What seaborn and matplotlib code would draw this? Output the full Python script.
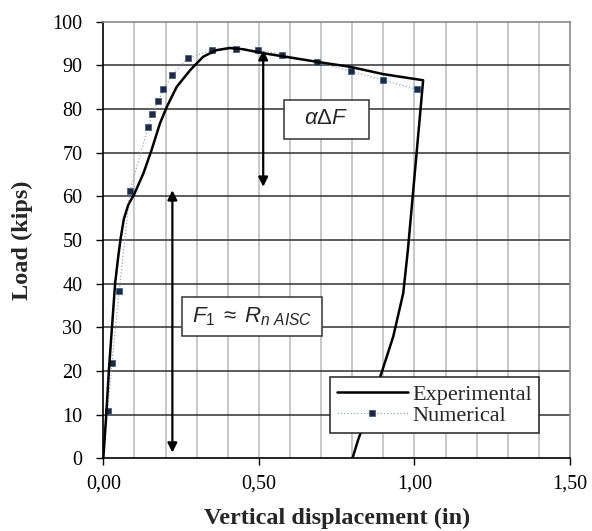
import numpy as np
import pandas as pd
import matplotlib
matplotlib.use("Agg")
import matplotlib.pyplot as plt
import matplotlib.patches as mpatches
import seaborn as sns
from matplotlib.ticker import MultipleLocator, FuncFormatter

# Experimental load-displacement curve (loading, then unloading)
exp_disp = [0, 0.009, 0.018, 0.028, 0.038, 0.048, 0.056, 0.066, 0.080, 0.100,
            0.129, 0.155, 0.182, 0.204, 0.236, 0.279, 0.321, 0.364, 0.407, 0.450,
            0.514, 0.707, 0.792, 0.900, 1.028, 0.979, 0.964, 0.932,
            0.894, 0.857, 0.819, 0.801]
exp_load = [0, 9.5, 20.2, 30.1, 40.1, 46.2, 50.5, 54.8, 58.0, 60.6,
            65.3, 70.6, 76.7, 80.5, 85.1, 88.9, 92.0, 93.5, 94.0, 93.7,
            92.8, 90.6, 89.7, 88.0, 86.6, 47.7, 37.8, 27.9,
            19.5, 11.8, 4.2, 0]

# Numerical model
num_disp = [0, 0.014, 0.028, 0.051, 0.086, 0.144, 0.157, 0.176, 0.193, 0.222,
            0.272, 0.349, 0.426, 0.498, 0.574, 0.686, 0.796, 0.900, 1.009]
num_load = [0, 10.9, 21.9, 38.3, 61.3, 75.9, 78.9, 81.8, 84.5, 87.9,
            91.7, 93.5, 93.7, 93.5, 92.5, 90.7, 88.7, 86.6, 84.5]

# annotation arrows (x, y_from, y_to) and labels
dF_arrow = (0.514, 93.5, 62.2)
F1_arrow = (0.222, 61.4, 1.3)
dF_text = r"$\alpha\Delta F$"
F1_text = r"$F_{\mathrm{1}}\;\approx\;R_{n\ AISC}$"

df_exp = pd.DataFrame({"disp": exp_disp, "load": exp_load})
df_num = pd.DataFrame({"disp": num_disp, "load": num_load})

sns.set_style("white")
plt.rcParams["font.family"] = ["Liberation Serif", "DejaVu Serif"]
plt.rcParams["mathtext.fontset"] = "custom"
plt.rcParams["mathtext.it"] = "Liberation Sans:italic"
plt.rcParams["mathtext.rm"] = "Liberation Sans"

fig = plt.figure(figsize=(5.92, 5.31), dpi=100)
ax = fig.add_axes([0.1745, 0.137, 0.7883, 0.822])

# grid
for xv in np.arange(0.1, 1.5, 0.1):
    ax.axvline(xv, color="#c4c4c4", lw=1.3, zorder=0)
for yv in range(10, 100, 10):
    ax.axhline(yv, color="#303030", lw=1.1, zorder=0)

sns.lineplot(data=df_num, x="disp", y="load", sort=False, estimator=None, ax=ax,
             color="#9aa8bb", lw=0.9, linestyle=":", marker="s", markersize=4.5,
             markerfacecolor="#1c2a48", markeredgecolor="#44608a", markeredgewidth=0.6,
             markevery=list(range(1, len(num_disp))), label="Numerical", zorder=3)
sns.lineplot(data=df_exp, x="disp", y="load", sort=False, estimator=None, ax=ax,
             color="black", lw=1.8, label="Experimental", zorder=4)

ax.set_xlim(0, 1.5)
ax.set_ylim(0, 100)
ax.xaxis.set_major_locator(MultipleLocator(0.5))
ax.yaxis.set_major_locator(MultipleLocator(10))
ax.xaxis.set_major_formatter(FuncFormatter(lambda v, p: f"{v:.2f}".replace(".", ",")))
ax.tick_params(axis="both", direction="out", length=5, width=1, colors="black",
               labelsize=14.5, left=True, bottom=True)
ax.tick_params(axis="x", pad=7)
ax.tick_params(axis="y", pad=10)

for s in ["left", "bottom"]:
    ax.spines[s].set_color("black")
    ax.spines[s].set_linewidth(1.2)
for s in ["top", "right"]:
    ax.spines[s].set_color("#8a8a8a")
    ax.spines[s].set_linewidth(1.2)

ax.set_xlabel("Vertical displacement (in)", fontsize=17.5, fontweight="bold", labelpad=10)
ax.set_ylabel("Load (kips)", fontsize=17.5, fontweight="bold", labelpad=14)

arrow_kw = dict(arrowstyle="<|-|>", color="black", lw=1.6, mutation_scale=14,
                shrinkA=0, shrinkB=0)
ax.annotate("", xy=(dF_arrow[0], dF_arrow[2]), xytext=(dF_arrow[0], dF_arrow[1]),
            arrowprops=arrow_kw, zorder=5)
ax.annotate("", xy=(F1_arrow[0], F1_arrow[2]), xytext=(F1_arrow[0], F1_arrow[1]),
            arrowprops=arrow_kw, zorder=5)

# label boxes
for (x0, y0, x1, y1), txt in [((0.581, 73.1, 0.854, 82.1), dF_text),
                               ((0.252, 28.0, 0.703, 37.0), F1_text)]:
    ax.add_patch(mpatches.Rectangle((x0, y0), x1 - x0, y1 - y0, facecolor="white",
                                    edgecolor="#333333", lw=1.1, zorder=6))
    ax.text((x0 + x1) / 2, (y0 + y1) / 2, txt, fontsize=16, ha="center", va="center",
            zorder=7)

handles, labels = ax.get_legend_handles_labels()
order = [labels.index("Experimental"), labels.index("Numerical")]
leg = ax.legend([handles[i] for i in order], [labels[i] for i in order],
                loc="lower left", bbox_to_anchor=(0.486, 0.058), fontsize=16,
                frameon=True, fancybox=False, edgecolor="#222222", framealpha=1,
                handlelength=3.2, borderpad=0.3, labelspacing=0.05, handletextpad=0.2,
                borderaxespad=0)
leg.get_frame().set_linewidth(1.1)
leg.set_zorder(8)

fig.savefig("out.png", dpi=100)
